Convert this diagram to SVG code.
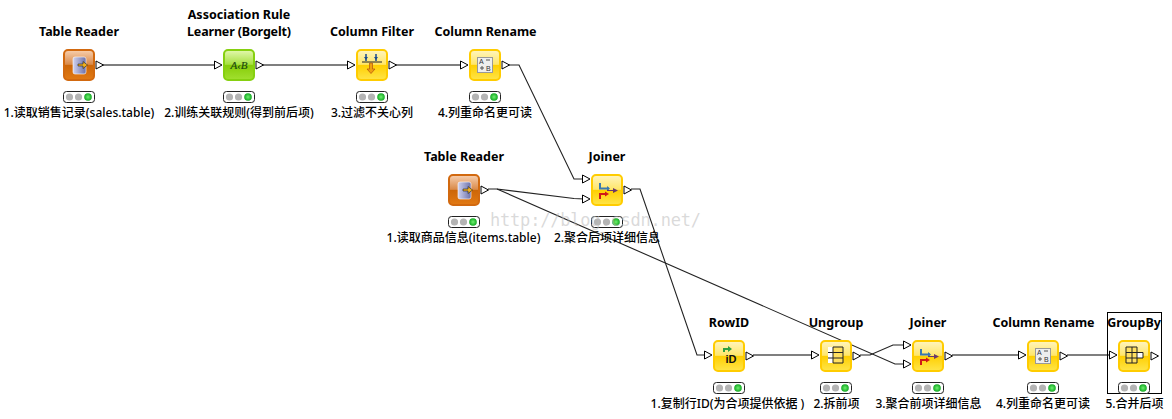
<svg xmlns="http://www.w3.org/2000/svg" width="1172" height="419" viewBox="0 0 1172 419">
<style>
.t{font-family:"Noto Sans","DejaVu Sans",sans-serif;font-weight:700;font-size:12.5px;text-anchor:middle;fill:#000}
.s{font-family:"Noto Sans","Noto Sans CJK SC",sans-serif;font-weight:500;font-size:12px;text-anchor:middle;fill:#000}
.c{fill:none;stroke:#222;stroke-width:1.1}
.h{fill:none;stroke:#000;stroke-width:1.2}
.p{fill:#fff;stroke:#000;stroke-width:1}
.i{font-family:"Liberation Sans",sans-serif;fill:#333}
</style>
<defs>
<linearGradient id="y" x1="0" y1="0" x2="0" y2="1"><stop offset="0" stop-color="#fff5c0"/><stop offset=".48" stop-color="#ffe66a"/><stop offset=".5" stop-color="#ffcf00"/><stop offset="1" stop-color="#ffe54a"/></linearGradient>
<linearGradient id="o" x1="0" y1="0" x2="0" y2="1"><stop offset="0" stop-color="#f8d0b0"/><stop offset=".48" stop-color="#d98a4a"/><stop offset=".5" stop-color="#cc6608"/><stop offset="1" stop-color="#e27a14"/></linearGradient>
<linearGradient id="g" x1="0" y1="0" x2="0" y2="1"><stop offset="0" stop-color="#e4f8b0"/><stop offset=".48" stop-color="#a6e040"/><stop offset=".5" stop-color="#86cc08"/><stop offset="1" stop-color="#a2e030"/></linearGradient>
<linearGradient id="d" x1="0" y1="0" x2="1" y2="0"><stop offset="0" stop-color="#d0d2ee"/><stop offset="1" stop-color="#6c70a8"/></linearGradient>
<radialGradient id="l"><stop offset="0" stop-color="#70f070"/><stop offset="1" stop-color="#10a820"/></radialGradient>
<g id="ybox"><rect x="1" y="1" width="30" height="30" rx="4" fill="url(#y)" stroke="#ffcc00" stroke-width="2"/></g>
<g id="obox"><rect x="1" y="1" width="30" height="30" rx="4" fill="url(#o)" stroke="#d2690f" stroke-width="2"/></g>
<g id="gbox"><rect x="1" y="1" width="30" height="30" rx="4" fill="url(#g)" stroke="#86d010" stroke-width="2"/></g>
<path id="ports" class="p" d="M33 12L40.500 16L33 20Z"/>
<path id="inp" class="p" d="M-8.500 -4L-1 0L-8.500 4Z"/>
<g id="lamp"><rect x=".5" y="42.500" width="31" height="11" rx="3" fill="#fff" stroke="#222"/><circle cx="6.500" cy="48" r="3.600" fill="#b4b4b4"/><circle cx="15.500" cy="48" r="3.600" fill="#b4b4b4"/><circle cx="25" cy="48" r="3.800" fill="url(#l)"/></g>
<g id="reader"><rect x="10" y="8" width="13" height="17" rx="2" fill="url(#d)" stroke="#fff" stroke-width=".6"/><path d="M15 15h5v-2.500l4.500 3.500-4.500 3.500v-2.500h-5z" fill="#f0b020" stroke="#222" stroke-width=".6"/></g>
<g id="rename"><rect x="8.500" y="8.500" width="15" height="15" fill="#eee" stroke="#999"/><text class="i" x="10" y="15" font-size="7">A</text><text class="i" x="17" y="22" font-size="7">B</text><path d="M11 19h4M13 17v4M17 11h4" stroke="#555" fill="none"/></g>
<g id="join"><path d="M9 9v5.500h9" fill="none" stroke="#3a78b0" stroke-width="2"/><path d="M16 12l3 2.500-3 2.500z" fill="#3a78b0"/><path d="M9 25v-5h6" fill="none" stroke="#d01818" stroke-width="2"/><path d="M14 17.500l4 2.500-4 2.500z" fill="#d01818"/><path d="M16 16h6v-2l5 2.500-5 2.500v-2h-6z" fill="#6a3a6a"/></g>
</defs>

<g id="connectors">
<path class="h" d="M103 65H216"/>
<path class="h" d="M263 65H349"/>
<path class="h" d="M396 65H462"/>
<path class="c" d="M509 65H519L574 179H584"/>
<path class="c" d="M488 189H497L574 198.500 584 199"/>
<path class="c" d="M497 189L895 364H904"/>
<path class="c" d="M631 189H640L697 355H705"/>
<path class="h" d="M753 355H813"/>
<path class="c" d="M860 355H870L893 345H904"/>
<path class="h" d="M952 355H1020"/>
<path class="h" d="M1067 355H1111"/>
</g>

<g id="n1"><use href="#obox" x="63" y="49"/><use href="#reader" x="63" y="49"/><use href="#ports" x="63" y="49"/><use href="#lamp" x="63" y="49"/>
<text class="t" x="79" y="36">Table Reader</text><text class="s" x="79" y="117">1.读取销售记录(sales.table)</text></g>

<g id="n2"><use href="#gbox" x="223" y="49"/><text x="239" y="69" font-family="Liberation Serif,serif" font-style="italic" font-size="11" text-anchor="middle" fill="#1c4a10" stroke="#1c4a10" stroke-width=".2">A‹B</text><use href="#inp" x="223" y="65"/><use href="#ports" x="223" y="49"/><use href="#lamp" x="223" y="49"/>
<text class="t" x="239" y="19">Association Rule</text><text class="t" x="239" y="36" textLength="104">Learner (Borgelt)</text><text class="s" x="239" y="117">2.训练关联规则(得到前后项)</text></g>

<g id="n3"><use href="#ybox" x="356" y="49"/><path d="M362 62H382" stroke="#222"/><path d="M366 54v7M376 54v7" stroke="#1a4a90" stroke-width="1.500"/><path d="M364 57l2 3 2-3zM374 57l2 3 2-3z" fill="#1a4a90"/><path d="M369.500 63h3v6h2.500l-4 4.500-4-4.500h2.500z" fill="#f0a010" stroke="#b05010" stroke-width=".7"/><use href="#inp" x="356" y="65"/><use href="#ports" x="356" y="49"/><use href="#lamp" x="356" y="49"/>
<text class="t" x="372" y="36">Column Filter</text><text class="s" x="372" y="117">3.过滤不关心列</text></g>

<g id="n4"><use href="#ybox" x="469" y="49"/><use href="#rename" x="469" y="49"/><use href="#inp" x="469" y="65"/><use href="#ports" x="469" y="49"/><use href="#lamp" x="469" y="49"/>
<text class="t" x="485.500" y="36">Column Rename</text><text class="s" x="485" y="117">4.列重命名更可读</text></g>

<g id="n5"><use href="#obox" x="448" y="174"/><use href="#reader" x="448" y="174"/><use href="#ports" x="448" y="174"/><use href="#lamp" x="448" y="174"/>
<text class="t" x="464" y="161">Table Reader</text><text class="s" x="463.500" y="242">1.读取商品信息(items.table)</text></g>

<g id="n6"><use href="#ybox" x="591" y="174"/><use href="#join" x="591" y="174"/><use href="#inp" x="591" y="179"/><use href="#inp" x="591" y="199"/><use href="#ports" x="591" y="174"/><use href="#lamp" x="591" y="174"/>
<text class="t" x="607" y="161">Joiner</text><text class="s" x="607" y="242">2.聚合后项详细信息</text></g>

<g id="n7"><use href="#ybox" x="713" y="340"/><path d="M723 352v-4h5v-2l4 3-4 3v-2h-3v2z" fill="#30a040"/><text x="731" y="363" font-family="Liberation Sans,sans-serif" font-weight="700" font-size="11" text-anchor="middle" fill="#111">iD</text><use href="#inp" x="713" y="355"/><use href="#ports" x="713" y="340"/><use href="#lamp" x="713" y="340"/>
<text class="t" x="729" y="327">RowID</text><text class="s" x="727.500" y="408">1.复制行ID(为合项提供依据 )</text></g>

<g id="n8"><use href="#ybox" x="820" y="340"/><rect x="828" y="347" width="5" height="16" fill="#fff"/><rect x="833" y="347" width="10" height="16" fill="#ffe060"/><path d="M828 352.500h15M828 358h15M833 347v16M843 347v16M833 347h10M833 363h10" fill="none" stroke="#222"/><use href="#inp" x="820" y="355"/><use href="#ports" x="820" y="340"/><use href="#lamp" x="820" y="340"/>
<text class="t" x="836" y="327">Ungroup</text><text class="s" x="836.500" y="408">2.拆前项</text></g>

<g id="n9"><use href="#ybox" x="912" y="340"/><use href="#join" x="912" y="340"/><use href="#inp" x="912" y="345"/><use href="#inp" x="912" y="364"/><use href="#ports" x="912" y="340"/><use href="#lamp" x="912" y="340"/>
<text class="t" x="928" y="327">Joiner</text><text class="s" x="928.500" y="408">3.聚合前项详细信息</text></g>

<g id="n10"><use href="#ybox" x="1027" y="340"/><use href="#rename" x="1027" y="340"/><use href="#inp" x="1027" y="355"/><use href="#ports" x="1027" y="340"/><use href="#lamp" x="1027" y="340"/>
<text class="t" x="1043.500" y="327">Column Rename</text><text class="s" x="1043" y="408">4.列重命名更可读</text></g>

<g id="n11"><rect x="1107.500" y="312.500" width="54" height="81" fill="none" stroke="#000"/><use href="#ybox" x="1118" y="340"/><rect x="1126" y="347" width="11" height="16" fill="#ffe060"/><rect x="1137" y="352" width="6" height="6" fill="#fff"/><path d="M1126 347h11v16h-11zM1126 352.500h17M1126 358h17M1132 347v16M1143 352.500v5.500" fill="none" stroke="#222"/><use href="#inp" x="1118" y="355"/><use href="#ports" x="1118" y="340"/><use href="#lamp" x="1118" y="340"/>
<text class="t" x="1134" y="327">GroupBy</text><text class="s" x="1134.500" y="408">5.合并后项</text></g>

<text x="490" y="226" font-family="DejaVu Sans Mono,monospace" font-size="17" fill="#bbb" fill-opacity=".55" textLength="211">http://blog.csdn.net/</text>
</svg>
